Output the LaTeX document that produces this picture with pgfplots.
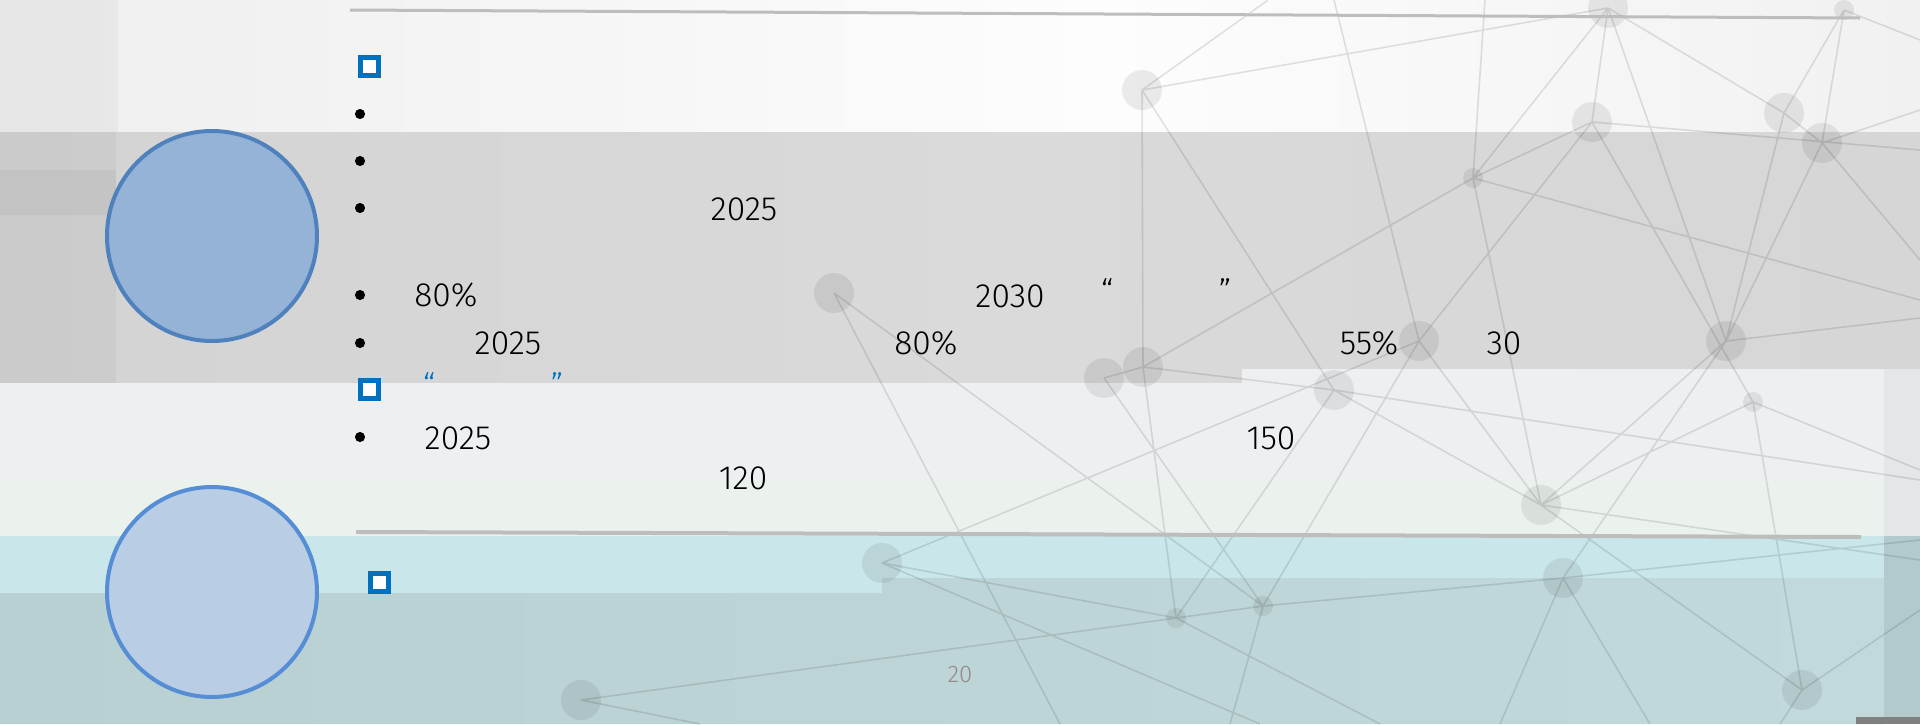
\documentclass[border=0pt]{standalone}
\usepackage{pgfplots}
\pgfplotsset{compat=1.18}
\usepackage{fontspec}
\setmainfont{Fira Sans Light}
\definecolor{topL}{HTML}{EEEEEE}
\definecolor{topM}{HTML}{FDFDFD}
\definecolor{topR}{HTML}{F1F1F1}
\definecolor{greyL}{HTML}{D3D3D3}
\definecolor{greyM}{HTML}{DADADA}
\definecolor{greyR}{HTML}{D6D6D6}
\definecolor{lightB}{HTML}{EEEFF1}
\definecolor{greenB}{HTML}{EBF2ED}
\definecolor{cyanB}{HTML}{C9E6EA}
\definecolor{tealL}{HTML}{B9D0D2}
\definecolor{tealR}{HTML}{C2D9DB}
\definecolor{panelA}{HTML}{E4E7E7}
\definecolor{panelB}{HTML}{B2CACC}
\definecolor{ruleC}{HTML}{BDBDBD}
\definecolor{sqBlue}{HTML}{0070C0}
\definecolor{cAfill}{HTML}{95B3D7}
\definecolor{cAdraw}{HTML}{4F81BD}
\definecolor{cBfill}{HTML}{B9CDE5}
\definecolor{cBdraw}{HTML}{558ED5}
\definecolor{pageC}{HTML}{948A86}
\begin{document}
\begin{tikzpicture}
\begin{axis}[
  scale only axis, width=960pt, height=362pt,
  xmin=0, xmax=1920, ymin=0, ymax=724, y dir=reverse,
  hide axis, clip=true, clip marker paths=true, unbounded coords=jump,
]
% ---------- background bands ----------
\addplot[draw=none, left color=topL, right color=topM] coordinates {(0,0)(1100,0)(1100,132)(0,132)} -- cycle;
\addplot[draw=none, left color=topM, right color=topR] coordinates {(1100,0)(1920,0)(1920,132)(1100,132)} -- cycle;
\addplot[draw=none, fill=black, fill opacity=0.03] coordinates {(0,0)(118,0)(118,132)(0,132)} -- cycle;
\addplot[draw=none, left color=greyL, right color=greyM] coordinates {(0,132)(1000,132)(1000,383)(0,383)} -- cycle;
\addplot[draw=none, left color=greyM, right color=greyR] coordinates {(1000,132)(1920,132)(1920,369)(1242,369)(1242,383)(1000,383)} -- cycle;
\addplot[draw=none, fill=black, fill opacity=0.035] coordinates {(0,132)(116,132)(116,383)(0,383)} -- cycle;
\addplot[draw=none, fill=black, fill opacity=0.035] coordinates {(0,170)(116,170)(116,215)(0,215)} -- cycle;
\addplot[draw=none, fill=lightB] coordinates {(0,383)(1242,383)(1242,369)(1884,369)(1884,480)(0,480)} -- cycle;
\addplot[draw=none, fill=greenB] coordinates {(0,480)(1884,480)(1884,536)(0,536)} -- cycle;
\addplot[draw=none, fill=cyanB] coordinates {(0,536)(1884,536)(1884,578)(882,578)(882,593)(0,593)} -- cycle;
\addplot[draw=none, left color=tealL, right color=tealR] coordinates {(0,593)(882,593)(882,578)(1884,578)(1884,724)(0,724)} -- cycle;
\addplot[draw=none, fill=panelA] coordinates {(1884,369)(1920,369)(1920,536)(1884,536)} -- cycle;
\addplot[draw=none, fill=panelB] coordinates {(1884,536)(1920,536)(1920,724)(1884,724)} -- cycle;
\addplot[draw=none, fill=black!50] coordinates {(1856,717)(1920,717)(1920,724)(1856,724)} -- cycle;
% ---------- network edges ----------
\addplot[black, opacity=0.11, line width=0.8pt] coordinates {
(1142,90)(1608,8) (nan,nan)
(1142,90)(1268,0) (nan,nan)
(1142,90)(1143,367) (nan,nan)
(1142,90)(1334,390) (nan,nan)
(1608,8)(1784,113) (nan,nan)
(1608,8)(1592,122) (nan,nan)
(1608,8)(1726,341) (nan,nan)
(1608,8)(1473,178) (nan,nan)
(1844,10)(1822,143) (nan,nan)
(1844,10)(1784,113) (nan,nan)
(1844,10)(1920,40) (nan,nan)
(1592,122)(1473,178) (nan,nan)
(1592,122)(1419,341) (nan,nan)
(1592,122)(1920,150) (nan,nan)
(1592,122)(1753,402) (nan,nan)
(1784,113)(1726,341) (nan,nan)
(1784,113)(1822,143) (nan,nan)
(1822,143)(1726,341) (nan,nan)
(1822,143)(1920,260) (nan,nan)
(1822,143)(1920,110) (nan,nan)
(1473,178)(1485,0) (nan,nan)
(1473,178)(1143,367) (nan,nan)
(1473,178)(1541,505) (nan,nan)
(1473,178)(1920,300) (nan,nan)
(1419,341)(1334,0) (nan,nan)
(1419,341)(1541,505) (nan,nan)
(1419,341)(1263,606) (nan,nan)
(1726,341)(1920,318) (nan,nan)
(1726,341)(1563,578) (nan,nan)
(1726,341)(1541,505) (nan,nan)
(1143,367)(1104,378) (nan,nan)
(1143,367)(1176,618) (nan,nan)
(1143,367)(1334,390) (nan,nan)
(1104,378)(1263,606) (nan,nan)
(834,293)(1263,606) (nan,nan)
(834,293)(1060,724) (nan,nan)
(882,563)(1419,341) (nan,nan)
(882,563)(1176,618) (nan,nan)
(882,563)(1260,724) (nan,nan)
(581,700)(1263,606) (nan,nan)
(581,700)(700,724) (nan,nan)
(1176,618)(1263,606) (nan,nan)
(1176,618)(1380,724) (nan,nan)
(1263,606)(1563,578) (nan,nan)
(1263,606)(1230,724) (nan,nan)
(1334,390)(1541,505) (nan,nan)
(1334,390)(1920,480) (nan,nan)
(1334,390)(1176,618) (nan,nan)
(1541,505)(1802,690) (nan,nan)
(1541,505)(1920,560) (nan,nan)
(1563,578)(1920,540) (nan,nan)
(1563,578)(1500,724) (nan,nan)
(1563,578)(1650,724) (nan,nan)
(1753,402)(1920,470) (nan,nan)
(1753,402)(1802,690) (nan,nan)
(1753,402)(1541,505) (nan,nan)
(1802,690)(1920,610) (nan,nan)
(1802,690)(1780,724)
};
% ---------- network nodes ----------
\addplot[only marks, mark=*, mark size=10pt, mark options={fill=black, fill opacity=0.075, draw opacity=0}] coordinates {
(1142,90)(1608,8)(1592,122)(1784,113)(1822,143)(834,293)(1419,341)(1726,341)(1143,367)(1104,378)(1334,390)(1541,505)(882,563)(1563,578)(1802,690)(581,700)
};
\addplot[only marks, mark=*, mark size=5pt, mark options={fill=black, fill opacity=0.075, draw opacity=0}] coordinates {
(1844,10)(1473,178)(1753,402)(1176,618)(1263,606)
};
% ---------- rules ----------
\addplot[ruleC, line width=1.5pt] coordinates {(350,10)(1860,18)};
\addplot[ruleC, line width=2pt] coordinates {(356,532)(1861,537)};
% ---------- circles ----------
\addplot[only marks, mark=*, mark size=52.5pt, mark options={fill=cAfill, draw=cAdraw, line width=2pt}] coordinates {(212,236)};
\addplot[only marks, mark=*, mark size=52.5pt, mark options={fill=cBfill, draw=cBdraw, line width=2pt}] coordinates {(212,592)};
% ---------- blue squares ----------
\addplot[only marks, mark=square*, mark size=4.5pt, mark options={fill=white, draw=sqBlue, line width=2.5pt}] coordinates {(369,66)(369,389)(379,582)};
% ---------- bullets ----------
\addplot[only marks, mark=*, mark size=2.3pt, black] coordinates {(360,114)(360,161)(360,208)(360,295)(360,343)(360,437)};
% ---------- texts ----------
\begin{scope}[every node/.style={inner sep=0pt, font=\fontsize{16.8pt}{20pt}\selectfont}]
\node at (axis cs:744,209) {2025};
\node at (axis cs:446,295) {80\%};
\node at (axis cs:1010,296) {2030};
\node at (axis cs:1107,291) {“};
\node at (axis cs:1225,291) {”};
\node at (axis cs:508,343) {2025};
\node at (axis cs:926,343) {80\%};
\node at (axis cs:1369,343) {55\%};
\node at (axis cs:1504,343) {30};
\node[text=sqBlue] at (axis cs:429,385) {“};
\node[text=sqBlue] at (axis cs:557,385) {”};
\node at (axis cs:458,438) {2025};
\node at (axis cs:1271,438) {150};
\node at (axis cs:743,478) {120};
\node[text=pageC, font=\fontsize{12pt}{14pt}\selectfont] at (axis cs:960,675) {20};
\end{scope}
\end{axis}
\end{tikzpicture}
\end{document}
